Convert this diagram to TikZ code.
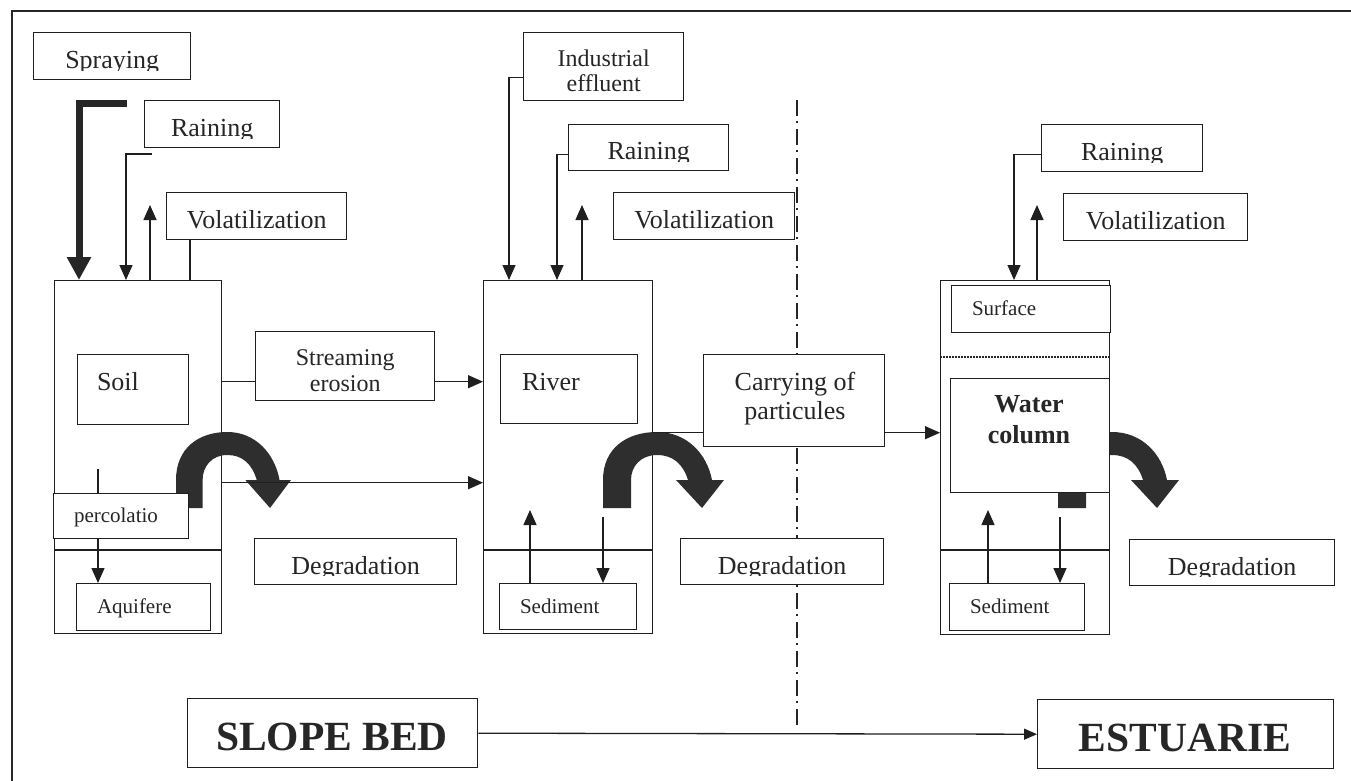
\documentclass[tikz,border=0pt]{standalone}
\usepackage{fontspec}
\setmainfont{Liberation Serif}
\usetikzlibrary{arrows.meta}
\pgfdeclarelayer{back}
\pgfdeclarelayer{mid}
\pgfsetlayers{back,mid,main}
\tikzset{
  box/.style={draw=black!88, line width=1.4pt, fill=white, inner sep=0pt, anchor=north west},
  lbl/.style={draw=none, fill=none, inner sep=0pt, outer sep=0pt, text=black!85},
  f26/.style={font=\fontsize{26}{30}\selectfont},
  f24/.style={font=\fontsize{24}{28}\selectfont},
  f21/.style={font=\fontsize{21}{24}\selectfont},
  fb26/.style={font=\fontsize{26}{30}\selectfont\bfseries},
  fbig/.style={font=\fontsize{41.5}{46}\selectfont\bfseries},
  ln/.style={draw=black!88, line width=1.3pt},
  arr/.style={ln, -{Triangle[length=15pt,width=13pt]}},
  sarr/.style={ln, -{Triangle[length=13pt,width=11pt]}},
  thickarr/.style={draw=black!85, line width=7pt, line join=miter, -{Triangle[length=23pt,width=23pt]}},
  divline/.style={draw=black!85, line width=1.4pt, dash pattern=on 16pt off 5pt on 2pt off 6pt},
  degarrow/.pic={\fill[black!82] (0,0) -- (0,-28) .. controls (0,-60) and (24,-76) .. (54,-76)
      .. controls (84,-76) and (104,-54) .. (109,-28) -- (121,-28) -- (99,0) -- (73,-28) -- (85,-28)
      .. controls (80,-44) and (70,-53) .. (54,-53) .. controls (38,-53) and (28,-42) .. (28,-28)
      -- (28,0) -- cycle;}
}
% text inside a box, clipped a little above the box's lower edge
\newcommand\cliplabel[4]{%
  \begin{scope}
    \clip (#1.north west) rectangle ([yshift=9.8pt]#1.south east);
    \node[lbl,#2,anchor=base] (#1t#3) at ([yshift=#3pt]#1.south) {#4};
  \end{scope}}
\begin{document}
\begin{tikzpicture}[x=1pt,y=-1pt]
\useasboundingbox (0,0) rectangle (1351,781);

\begin{pgfonlayer}{back}
  \draw[line width=2.4pt, black!85] (12,781) -- (12,11) -- (1351,11);
  \draw[divline] (797,100) -- (797,728);
  \node[box, minimum width=167, minimum height=353] (soilcol) at (54,280) {};
  \node[box, minimum width=169, minimum height=353] (rivercol) at (483,280) {};
  \node[box, minimum width=169, minimum height=354] (watercol) at (940,280) {};
  \draw[ln] ([yshift=-270pt]soilcol.north west) -- ([yshift=-270pt]soilcol.north east);
  \draw[ln] ([yshift=-270pt]rivercol.north west) -- ([yshift=-270pt]rivercol.north east);
  \draw[ln] ([yshift=-270pt]watercol.north west) -- ([yshift=-270pt]watercol.north east);
  \draw[draw=black!85, line width=1.2pt, dash pattern=on 1.5pt off 1.5pt]
    ([yshift=-77pt]watercol.north west) -- ([yshift=-77pt]watercol.north east);
\end{pgfonlayer}

\begin{pgfonlayer}{mid}
  \pic[xscale=0.95] at (176,508) {degarrow};
  \pic at (603,508) {degarrow};
  \pic at (1058,508) {degarrow};
\end{pgfonlayer}

% slope bed column
\node[box, minimum width=157, minimum height=47] (spray) at (33,32) {};
\node[box, minimum width=135, minimum height=47] (rain1) at (144,100) {};
\node[box, minimum width=180, minimum height=47] (vol1) at (166,192) {};
\node[box, minimum width=111, minimum height=70] (soil) at (77,354) {};
\node[box, minimum width=179, minimum height=69] (stream) at (255,331) {};
\node[box, minimum width=135, minimum height=45] (perc) at (53,493) {};
\node[box, minimum width=134, minimum height=47] (aquif) at (76,583) {};
\node[box, minimum width=202, minimum height=46] (degr1) at (254,538) {};

% river
\node[box, minimum width=160, minimum height=68] (indus) at (523,32) {};
\node[box, minimum width=160, minimum height=46] (rain2) at (568,124) {};
\node[box, minimum width=181, minimum height=47] (vol2) at (613,192) {};
\node[box, minimum width=137, minimum height=69] (river) at (500,354) {};
\node[box, minimum width=137, minimum height=46] (sedim1) at (499,583) {};
\node[box, minimum width=181, minimum height=92] (carry) at (703,354) {};
\node[box, minimum width=203, minimum height=46] (degr2) at (680,538) {};

% estuary
\node[box, minimum width=161, minimum height=47] (rain3) at (1041,124) {};
\node[box, minimum width=184, minimum height=47] (vol3) at (1063,193) {};
\node[box, minimum width=159, minimum height=47] (surf) at (951,285) {};
\node[box, minimum width=159, minimum height=114] (water) at (950,378) {};
\node[box, minimum width=135, minimum height=47] (sedim2) at (949,583) {};
\node[box, minimum width=205, minimum height=46] (degr3) at (1129,539) {};

% bottom
\node[box, minimum width=290, minimum height=69] (slope) at (187,698) {};
\node[box, minimum width=296, minimum height=69] (estu) at (1037,699) {};

% clipped texts
\cliplabel{spray}{f26}{12}{Spraying}
\cliplabel{rain1}{f26}{11.5}{Raining}
\cliplabel{vol1}{f26}{12}{Volatilization}
\cliplabel{stream}{f24}{36}{Streaming}
\cliplabel{stream}{f24}{10}{erosion}
\cliplabel{degr1}{f26}{10.5}{Degradation}
\cliplabel{indus}{f24}{35}{Industrial}
\cliplabel{indus}{f24}{9.5}{effluent}
\cliplabel{rain2}{f26}{11.5}{Raining}
\cliplabel{vol2}{f26}{12}{Volatilization}
\cliplabel{degr2}{f26}{10.5}{Degradation}
\cliplabel{rain3}{f26}{11.5}{Raining}
\cliplabel{vol3}{f26}{12}{Volatilization}
\cliplabel{degr3}{f26}{10.5}{Degradation}

% other texts
\node[lbl,f26,anchor=base west] (soilt) at (97,390) {Soil};
\node[lbl,f26,anchor=base west] (rivert) at (522,390) {River};
\node[lbl,f21,anchor=base west] (perct) at (74,522) {percolatio};
\node[lbl,f21,anchor=base west] (aquift) at (97,613) {Aquifere};
\node[lbl,f21,anchor=base west] (sed1t) at (520,613) {Sediment};
\node[lbl,f21,anchor=base west] (sed2t) at (970,613) {Sediment};
\node[lbl,f21,anchor=base west] (surft) at (972,315) {Surface};
\node[lbl,f26,anchor=base] (carryt1) at (795,390) {Carrying of};
\node[lbl,f26,anchor=base] (carryt2) at (795,419) {particules};
\node[lbl,fb26,anchor=base] (watert1) at (1029,412) {Water};
\node[lbl,fb26,anchor=base] (watert2) at (1029,443) {column};
\node[lbl,fbig,anchor=base] (slopet) at (332,750) {SLOPE BED};
\node[lbl,fbig,anchor=base] (estut) at (1185,751) {ESTUARIE};

% helper coordinates
\coordinate (sp0) at (127,103.5);
\coordinate (r1) at (152,154);
\path (stream.west) ++(0,15.5) coordinate (sA);
\path (soilcol.east) ++(0,25.5) coordinate (sB);
\path (carry.west) ++(0,32) coordinate (cA);
\path (perc.north west) ++(45,0) coordinate (pc1);
\path (perc.south west) ++(45,0) coordinate (pc2);

% slope bed connectors
\draw[thickarr] (sp0) -| ([xshift=25pt]soilcol.north west);
\draw[arr] (r1) -| ([xshift=72pt]soilcol.north west);
\draw[arr] ([xshift=96pt]soilcol.north west) -- ++(0,-75);
\draw[ln] ([xshift=24pt]vol1.south west) -- ++(0,41);
\draw[ln] (sA -| soilcol.east) -- (sA);
\draw[arr] (sA -| stream.east) -- (sA -| rivercol.west);
\draw[arr] (sB) -- (sB -| rivercol.west);
\draw[ln] (pc1) -- ++(0,-24);
\draw[arr] (pc2) -- (pc2 |- aquif.north);

% river connectors
\draw[arr] ([yshift=-11pt]indus.west) -| ([xshift=26pt]rivercol.north west);
\draw[arr] ([yshift=-7pt]rain2.west) -| ([xshift=74pt]rivercol.north west);
\draw[arr] ([xshift=99pt]rivercol.north west) -- ++(0,-75);
\draw[ln] (cA -| rivercol.east) -- (cA);
\draw[arr] (cA -| carry.east) -- (cA -| watercol.west);
\draw[arr] ([xshift=31pt]sedim1.north west) -- ++(0,-73);
\draw[arr] ([xshift=104pt,yshift=66pt]sedim1.north west) -- ([xshift=104pt]sedim1.north west);

% estuary connectors
\draw[arr] ([yshift=-6.5pt]rain3.west) -| ([xshift=74pt]watercol.north west);
\draw[arr] ([xshift=97pt]watercol.north west) -- ++(0,-75);
\draw[arr] ([xshift=39pt]sedim2.north west) -- ++(0,-73);
\draw[arr] ([xshift=111pt,yshift=66pt]sedim2.north west) -- ([xshift=111pt]sedim2.north west);

% bottom
\draw[sarr] (slope.east) -- (estu.west);
\end{tikzpicture}
\end{document}
